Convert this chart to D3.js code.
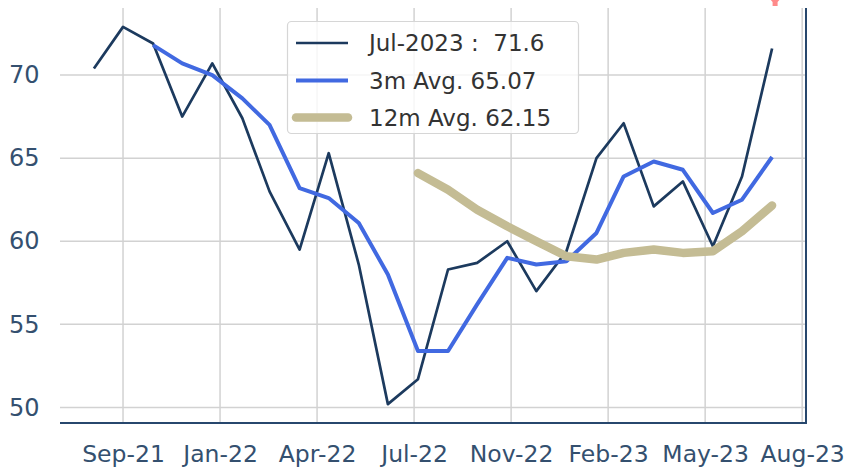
<!DOCTYPE html>
<html>
<head>
<meta charset="utf-8">
<script src="https://cdn.jsdelivr.net/npm/d3@7"></script>
<style>
  html, body { margin: 0; padding: 0; background: #ffffff; }
  svg { display: block; }
  text { font-family: "DejaVu Sans", sans-serif; }
</style>
</head>
<body>
<svg id="chart" width="847" height="469"></svg>
<script>
// ---- data ----
const dates = [
  "2021-08-31","2021-09-30","2021-10-31","2021-11-30","2021-12-31",
  "2022-01-31","2022-02-28","2022-03-31","2022-04-30","2022-05-31",
  "2022-06-30","2022-07-31","2022-08-31","2022-09-30","2022-10-31",
  "2022-11-30","2022-12-31","2023-01-31","2023-02-28","2023-03-31",
  "2023-04-30","2023-05-31","2023-06-30","2023-07-31"
];
const monthly = [70.4, 72.9, 71.9, 67.5, 70.7, 67.4, 63.0, 59.5, 65.3, 58.6, 50.2, 51.7,
                 58.3, 58.7, 60.0, 57.0, 59.4, 65.0, 67.1, 62.1, 63.6, 59.7, 63.9, 71.6];
const avg3m = [null, null, 71.8, 70.7, 70.0, 68.6, 67.0, 63.2, 62.6, 61.1, 58.0, 53.4,
               53.4, 56.2, 59.0, 58.6, 58.8, 60.5, 63.9, 64.8, 64.3, 61.7, 62.5, 65.07];
const avg12m = [null, null, null, null, null, null, null, null, null, null, null, 64.1,
                63.1, 61.9, 60.9, 60.0, 59.1, 58.9, 59.3, 59.5, 59.3, 59.4, 60.6, 62.15];
const tickDates = ["2021-09-30","2022-01-08","2022-04-18","2022-07-27",
                   "2022-11-04","2023-02-12","2023-05-23","2023-08-31"];
const tickLabels = ["Sep-21","Jan-22","Apr-22","Jul-22","Nov-22","Feb-23","May-23","Aug-23"];
const yTicks = [50, 55, 60, 65, 70];
const legendLabels = ["Jul-2023 :  71.6", "3m Avg. 65.07", "12m Avg. 62.15"];

// ---- layout / style ----
const W = 847, H = 469;
const plot = { left: 60, right: 806, top: 8, bottom: 423 };
const colors = { monthly: "#1c3a5e", avg3m: "#4169e1", avg12m: "#c4bc94" };
const widths = { monthly: 2.7, avg3m: 4, avg12m: 8.5 };
const tickColor = "#34506f";
const spineColor = "#27476d";
const gridColor = "#d2d2d2";

const parse = d3.utcParse("%Y-%m-%d");
const xs = dates.map(parse);

const svg = d3.select("#chart");

// scales with 5% margins like matplotlib
const xExt = d3.extent(xs);
const xSpan = xExt[1] - xExt[0];
const x = d3.scaleUtc()
  .domain([new Date(+xExt[0] - 0.05 * xSpan), new Date(+xExt[1] + 0.05 * xSpan)])
  .range([plot.left, plot.right]);

const allVals = monthly.concat(avg3m, avg12m).filter(v => v != null);
const yExt = d3.extent(allVals);
const ySpan = yExt[1] - yExt[0];
const y = d3.scaleLinear()
  .domain([yExt[0] - 0.05 * ySpan, yExt[1] + 0.05 * ySpan])
  .range([plot.bottom, plot.top]);

// ---- grid ----
const grid = svg.append("g");
grid.selectAll("line.hg").data(yTicks).enter().append("line")
  .attr("x1", plot.left).attr("x2", plot.right)
  .attr("y1", d => y(d)).attr("y2", d => y(d))
  .attr("stroke", gridColor).attr("stroke-width", 1.5);
const tickX = tickDates.map(parse);
grid.selectAll("line.vg").data(tickX).enter().append("line")
  .attr("x1", d => x(d)).attr("x2", d => x(d))
  .attr("y1", plot.top).attr("y2", plot.bottom)
  .attr("stroke", gridColor).attr("stroke-width", 1.5);

// ---- axes (labels only; ticks hidden) ----
const xAxis = d3.axisBottom(x).tickValues(tickX).tickSize(0).tickPadding(0)
  .tickFormat((d, i) => tickLabels[i]);
const gx = svg.append("g").attr("transform", `translate(0,${plot.bottom})`).call(xAxis);
gx.select(".domain").remove();
gx.selectAll("text")
  .attr("y", 38.5).attr("dy", null)
  .attr("fill", tickColor).style("font-size", "23.5px")
  .style("font-family", "DejaVu Sans");

const yAxis = d3.axisLeft(y).tickValues(yTicks).tickSize(0).tickPadding(20.5);
const gy = svg.append("g").attr("transform", `translate(${plot.left},0)`).call(yAxis);
gy.select(".domain").remove();
gy.selectAll("text")
  .attr("fill", tickColor).style("font-size", "24px")
  .style("font-family", "DejaVu Sans");

// ---- spines (bottom, right) ----
svg.append("line")
  .attr("x1", plot.left).attr("x2", plot.right + 1)
  .attr("y1", plot.bottom).attr("y2", plot.bottom)
  .attr("stroke", spineColor).attr("stroke-width", 2);
svg.append("line")
  .attr("x1", plot.right).attr("x2", plot.right)
  .attr("y1", plot.top).attr("y2", plot.bottom)
  .attr("stroke", spineColor).attr("stroke-width", 2);

// ---- lines ----
const series = [
  { key: "monthly", values: monthly, cap: "butt" },
  { key: "avg3m", values: avg3m, cap: "butt" },
  { key: "avg12m", values: avg12m, cap: "round" }
];
const line = d3.line()
  .defined(d => d.v != null)
  .x(d => x(d.t)).y(d => y(d.v));
series.forEach(s => {
  const pts = s.values.map((v, i) => ({ t: xs[i], v }));
  svg.append("path")
    .datum(pts)
    .attr("d", line)
    .attr("fill", "none")
    .attr("stroke", colors[s.key])
    .attr("stroke-width", widths[s.key])
    .attr("stroke-linejoin", "round")
    .attr("stroke-linecap", s.cap);
});

// small red annotation arrow tip, clipped at the top edge above the latest point
const ax = x(xs[xs.length - 1]) + 3;
svg.append("path")
  .attr("d", `M${ax - 7},-3 L${ax + 7},-3 L${ax + 2.5},2 L${ax + 2.5},6 L${ax - 2.5},6 L${ax - 2.5},2 Z`)
  .attr("fill", "#ff8a8a")
  .attr("stroke", "none");

// ---- legend ----
const lg = svg.append("g");
const lgBox = { x: 287.5, y: 21.5, w: 291, h: 112 };
lg.append("rect")
  .attr("x", lgBox.x).attr("y", lgBox.y)
  .attr("width", lgBox.w).attr("height", lgBox.h)
  .attr("rx", 4).attr("ry", 4)
  .attr("fill", "#ffffff").attr("fill-opacity", 0.8)
  .attr("stroke", "#d6d6d6").attr("stroke-width", 1.2);
const rowY = [43, 80.5, 117.5];
series.forEach((s, i) => {
  lg.append("line")
    .attr("x1", 296).attr("x2", 348)
    .attr("y1", rowY[i]).attr("y2", rowY[i])
    .attr("stroke", colors[s.key])
    .attr("stroke-width", widths[s.key])
    .attr("stroke-linecap", s.cap);
  lg.append("text")
    .attr("x", 369).attr("y", rowY[i]).attr("dy", "0.35em")
    .attr("fill", "#333333")
    .style("font-size", "23px")
    .style("white-space", "pre")
    .attr("xml:space", "preserve")
    .text(legendLabels[i]);
});
</script>
</body>
</html>
